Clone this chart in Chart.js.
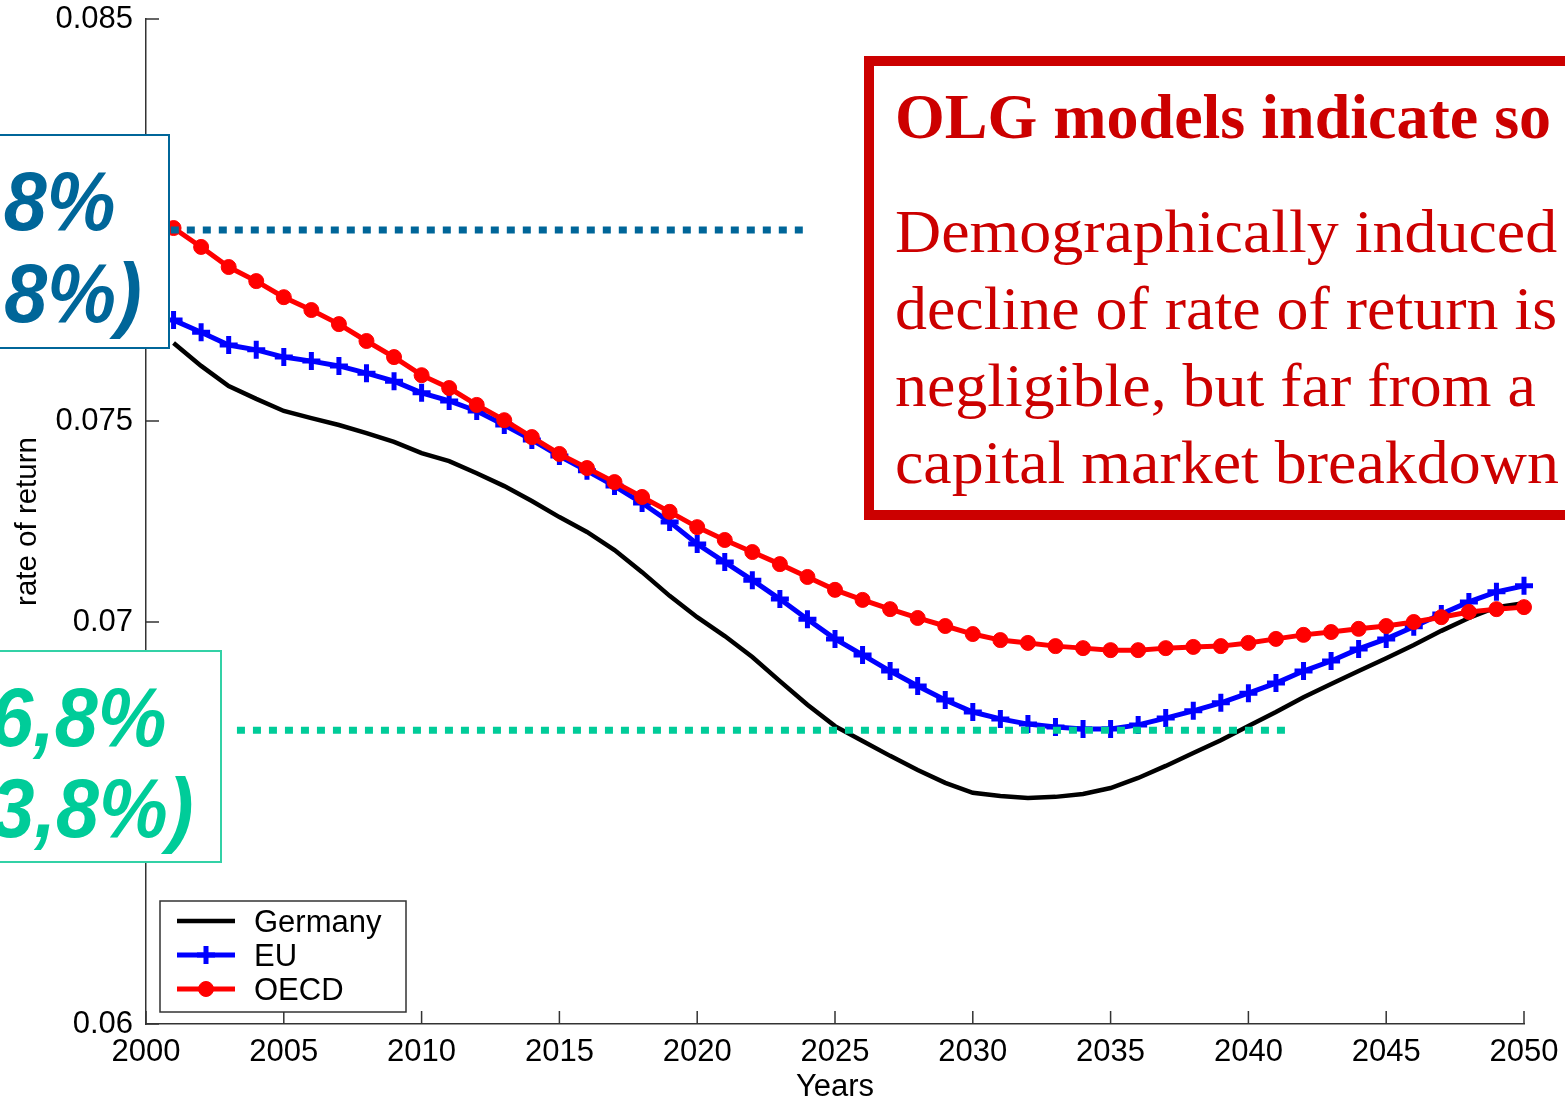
<!DOCTYPE html>
<html><head><meta charset="utf-8">
<script src="https://cdn.jsdelivr.net/npm/chart.js@4.4.0/dist/chart.umd.min.js"></script>
<style>
html,body{margin:0;padding:0;background:#fff;}
#wrap{position:relative;width:1565px;height:1100px;overflow:hidden;background:#fff;}
#c{position:absolute;left:0;top:0;}
.box{position:absolute;background:#fff;box-sizing:border-box;}
.t{position:absolute;white-space:nowrap;line-height:1;}
.pct{font-family:"Liberation Sans",Arial,sans-serif;font-weight:bold;font-style:italic;font-size:84px;transform:scaleX(0.92);transform-origin:right center;}
.serif{font-family:"Liberation Serif","Times New Roman",serif;color:#cc0000;}
.body{font-size:61px;transform:scaleX(1.048);transform-origin:left center;}
</style></head><body>
<div id="wrap">
<canvas id="c" width="1565" height="1100"></canvas>

<div class="box" style="left:-10px;top:134px;width:180px;height:215px;border:2px solid #006699;"></div>
<div class="t pct" style="right:1450px;top:159px;color:#006699;">8%</div>
<div class="t pct" style="right:1423px;top:251px;color:#006699;">,8%)</div>

<div class="box" style="left:-10px;top:650px;width:232px;height:213px;border:2px solid #33d1a6;"></div>
<div class="t pct" style="right:1399px;top:675px;color:#00cc99;">6,8%</div>
<div class="t pct" style="right:1372px;top:766px;color:#00cc99;">(3,8%)</div>

<div class="box" style="left:864px;top:56px;width:800px;height:464px;border:10px solid #cc0000;"></div>
<div class="t serif" style="left:895px;top:85px;font-size:64px;font-weight:bold;">OLG models indicate so</div>
<div class="t serif body" style="left:895px;top:201px;">Demographically induced</div>
<div class="t serif body" style="left:895px;top:278px;">decline of rate of return is</div>
<div class="t serif body" style="left:895px;top:355px;">negligible, but far from a</div>
<div class="t serif body" style="left:895px;top:432px;">capital market breakdown</div>
</div>

<script>
const years = [2001,2002,2003,2004,2005,2006,2007,2008,2009,2010,
  2011,2012,2013,2014,2015,2016,2017,2018,2019,2020,
  2021,2022,2023,2024,2025,2026,2027,2028,2029,2030,
  2031,2032,2033,2034,2035,2036,2037,2038,2039,2040,
  2041,2042,2043,2044,2045,2046,2047,2048,2049,2050];

const germany = [0.07694,0.07637,0.07587,0.07555,0.07525,0.07507,0.0749,0.0747,0.07448,0.0742,
  0.074,0.0737,0.07338,0.07301,0.07261,0.07224,0.07179,0.07124,0.07065,0.07012,
  0.06965,0.06913,0.06853,0.06794,0.06741,0.06704,0.06667,0.06632,0.066,0.06575,
  0.06567,0.06562,0.06565,0.06572,0.06587,0.06612,0.06642,0.06674,0.06706,0.06741,
  0.06776,0.06813,0.06846,0.06878,0.0691,0.06943,0.06978,0.0701,0.07037,0.07047];

const eu = [0.07751,0.07721,0.07689,0.07677,0.07659,0.07649,0.07637,0.07619,0.07599,0.0757,
  0.0755,0.07525,0.0749,0.07453,0.07413,0.07376,0.07338,0.07296,0.07249,0.07194,
  0.07149,0.07104,0.07057,0.07007,0.06958,0.06918,0.06878,0.06841,0.06806,0.06776,
  0.06759,0.06746,0.06739,0.06734,0.06734,0.06744,0.06761,0.06779,0.06799,0.06823,
  0.06848,0.06878,0.06903,0.06933,0.06958,0.06988,0.0702,0.0705,0.07075,0.0709];

const oecd = [0.0798,0.07933,0.07883,0.07848,0.07808,0.07776,0.07741,0.07699,0.07659,0.07614,
  0.07582,0.0754,0.07502,0.0746,0.07418,0.07383,0.07348,0.07311,0.07274,0.07236,
  0.07204,0.07174,0.07144,0.07112,0.0708,0.07055,0.07032,0.0701,0.0699,0.0697,
  0.06955,0.06948,0.0694,0.06935,0.0693,0.0693,0.06935,0.06938,0.0694,0.06948,
  0.06958,0.06968,0.06975,0.06983,0.0699,0.07,0.07012,0.07025,0.07032,0.07037];

// reference (dotted) lines: [fromYear, toYear], level
const refHighYears = [2000.9, 2024.0];
const refHighLevel = 0.07975;
const refLowYears = [2003.3, 2041.35];
const refLowLevel = 0.06731;

const xTicks = [2000,2005,2010,2015,2020,2025,2030,2035,2040,2045,2050];
const yTicks = [0.06,0.065,0.07,0.075,0.08,0.085];

const pts = (xs, ys) => xs.map((x,i)=>({x, y: ys[i]}));
const flat = (xs, v) => xs.map(x=>({x, y: v}));

const legendPlugin = {
  id:'boxLegend',
  afterDatasetsDraw(chart){
    const ctx = chart.ctx;
    ctx.save();
    const x0=160,y0=901,w=246,h=111;
    ctx.fillStyle='#fff'; ctx.fillRect(x0,y0,w,h);
    ctx.strokeStyle='#333'; ctx.lineWidth=1.5; ctx.strokeRect(x0,y0,w,h);
    const rows=[921,955,989];
    chart.data.datasets.slice(0,3).forEach((ds,i)=>{
      const y=rows[i];
      ctx.strokeStyle=ds.borderColor; ctx.lineWidth=ds.borderWidth;
      ctx.beginPath(); ctx.moveTo(177,y); ctx.lineTo(235,y); ctx.stroke();
      if(ds.pointRadius>0){
        ctx.fillStyle=ds.pointBackgroundColor; ctx.strokeStyle=ds.pointBorderColor; ctx.lineWidth=ds.pointBorderWidth;
        Chart.helpers.drawPoint(ctx,{pointStyle:ds.pointStyle,rotation:0,radius:ds.pointRadius,borderWidth:ds.pointBorderWidth},206,y);
      }
      ctx.fillStyle='#000'; ctx.font='31px "Liberation Sans", Arial, sans-serif'; ctx.textBaseline='alphabetic'; ctx.textAlign='left';
      ctx.fillText(ds.label, 254, y+11);
    });
    ctx.restore();
  }
};

const tickPlugin = {
  id:'inTicks',
  beforeDatasetsDraw(chart){
    const {ctx, scales:{x,y}, chartArea:a} = chart;
    ctx.save(); ctx.strokeStyle='#333'; ctx.lineWidth=1.5;
    ctx.beginPath();
    x.ticks.forEach(t=>{const px=x.getPixelForValue(t.value); ctx.moveTo(px,a.bottom); ctx.lineTo(px,a.bottom-13);});
    y.ticks.forEach(t=>{const py=y.getPixelForValue(t.value); ctx.moveTo(a.left,py); ctx.lineTo(a.left+13,py);});
    ctx.stroke();
    ctx.restore();
  }
};

const tickFont = {family:'"Liberation Sans", Arial, sans-serif', size:31};

new Chart(document.getElementById('c'), {
  type:'line',
  data:{
    datasets:[
      {label:'Germany', data:pts(years,germany), borderColor:'#000000', borderWidth:4.5, pointRadius:0, order:3, clip:false, tension:0},
      {label:'EU', data:pts(years,eu), borderColor:'#0000ff', borderWidth:5, pointStyle:'cross', pointRadius:9,
        pointBorderColor:'#0000ff', pointBackgroundColor:'#0000ff', pointBorderWidth:5, order:2, clip:false},
      {label:'OECD', data:pts(years,oecd), borderColor:'#ff0000', borderWidth:5, pointStyle:'circle', pointRadius:7.5,
        pointBorderColor:'#ff0000', pointBackgroundColor:'#ff0000', pointBorderWidth:1, order:1, clip:false},
      {label:'refHigh', data:flat(refHighYears,refHighLevel), borderColor:'#006699', borderWidth:7, borderDash:[8,8], borderCapStyle:'butt', pointRadius:0, order:0, clip:false},
      {label:'refLow', data:flat(refLowYears,refLowLevel), borderColor:'#00cc99', borderWidth:7, borderDash:[8,8], borderCapStyle:'butt', pointRadius:0, order:0, clip:false}
    ]
  },
  options:{
    responsive:false, animation:false, events:[],
    layout:{autoPadding:false, padding:{left:0,right:41,top:19,bottom:0}},
    plugins:{legend:{display:false}, tooltip:{enabled:false}},
    scales:{
      x:{type:'linear', min:2000, max:2050,
        afterBuildTicks:(s)=>{ s.ticks = xTicks.map(v=>({value:v})); },
        afterFit:(s)=>{ s.height = 76; s.paddingLeft = 0; s.paddingRight = 0; s.paddingTop = 0; s.paddingBottom = 0; },
        grid:{display:false, drawTicks:false},
        border:{display:true, color:'#333', width:1.5},
        ticks:{font:tickFont, color:'#000', padding:10, maxRotation:0, callback:(v)=>String(v)},
        title:{display:true, text:'Years', font:{family:'"Liberation Sans", Arial, sans-serif', size:31, lineHeight:1}, color:'#000', padding:{top:0,bottom:-3}}
      },
      y:{type:'linear', min:0.06, max:0.085,
        afterBuildTicks:(s)=>{ s.ticks = yTicks.map(v=>({value:v})); },
        afterFit:(s)=>{ s.width = 146; s.paddingTop = 0; s.paddingBottom = 0; s.paddingLeft = 0; s.paddingRight = 0; },
        grid:{display:false, drawTicks:false},
        border:{display:true, color:'#333', width:1.5},
        ticks:{font:tickFont, color:'#000', padding:13, callback:(v)=>String(+v.toFixed(3))},
        title:{display:true, text:'rate of return', font:{family:'"Liberation Sans", Arial, sans-serif', size:29.5, lineHeight:1.2}, color:'#000', padding:{top:10,bottom:0}}
      }
    }
  },
  plugins:[tickPlugin, legendPlugin]
});
</script>
</body></html>
